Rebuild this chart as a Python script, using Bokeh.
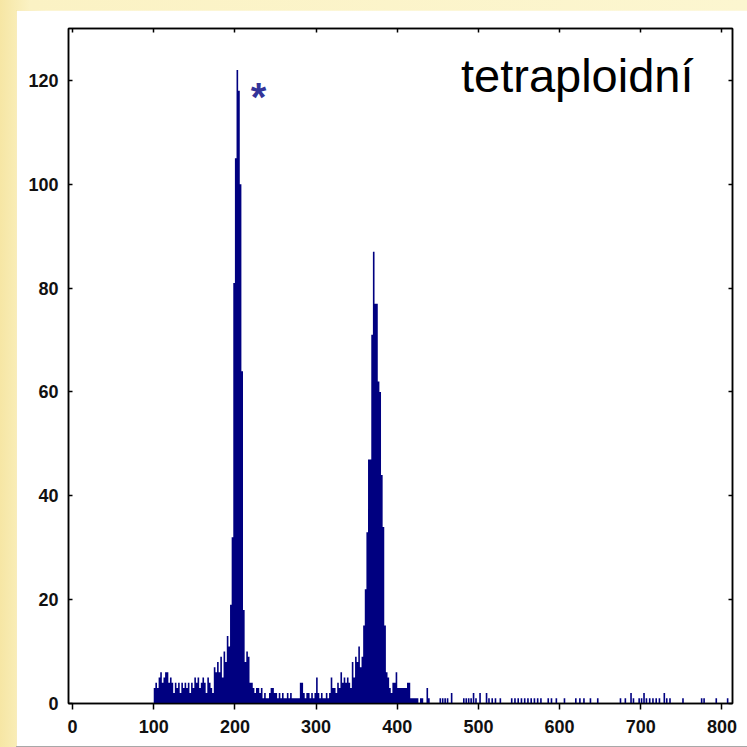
from bokeh.plotting import figure
from bokeh.models import Range1d, LinearAxis, FixedTicker, ColumnDataSource, Label, CustomJSTickFormatter
from bokeh.embed import file_html
from bokeh.resources import INLINE
from bokeh.core.templates import get_env

# ---------------- data ----------------
bin_width = 2
dense_start = 100
# counts per 2-channel bin, channels 100..438
dense_counts = [
    3, 4, 3, 5, 6, 4, 5, 6, 6, 4,          # 100-118
    5, 4, 2, 4, 3, 4, 2, 4, 3, 4,          # 120-138
    3, 4, 2, 4, 3, 5, 4, 5, 3, 4,          # 140-158
    5, 4, 2, 5, 4, 3, 2, 7, 6, 8,          # 160-178
    6, 9, 5, 10, 8, 13, 11, 19, 32, 81,    # 180-198
    105, 122, 118, 100, 64, 18, 8, 10, 9, 4,  # 200-218
    4, 3, 2, 3, 3, 2, 3, 1, 2, 1,          # 220-238
    1, 2, 3, 3, 2, 2, 1, 2, 1, 2,          # 240-258
    1, 1, 2, 1, 2, 1, 1, 1, 1, 1,          # 260-278
    4, 4, 2, 1, 2, 2, 1, 2, 1, 2,          # 280-298
    5, 2, 1, 2, 1, 1, 2, 1, 2, 5,          # 300-318
    3, 3, 2, 4, 3, 6, 4, 5, 4, 5,          # 320-338
    4, 3, 8, 5, 9, 8, 11, 7, 9, 15,        # 340-358
    22, 33, 47, 47, 71, 87, 77, 77, 62, 60,  # 360-378
    44, 34, 15, 6, 5, 3, 2, 4, 4, 6,       # 380-398
    3, 3, 3, 3, 3, 3, 4, 4, 1, 1,          # 400-418
    1, 1, 1, 0, 1, 1, 0, 0, 3, 1,          # 420-438
]
# isolated events above channel 440
sparse_channels = [452, 455, 458, 461, 466, 481, 484, 487, 490, 493, 496, 501, 509, 512,
                   516, 520, 526, 540, 544, 548, 552, 556, 560, 564, 568, 572, 576, 585,
                   589, 595, 605, 619, 624, 629, 637, 646, 674, 680, 687, 690, 697, 700,
                   703, 706, 710, 714, 718, 722, 728, 731, 735, 751, 774, 777, 792, 806]
sparse_counts = [1, 1, 1, 1, 2, 1, 1, 1, 1, 2, 1, 2, 2, 1,
                 1, 1, 1, 1, 1, 1, 1, 1, 1, 1, 1, 1, 1, 1,
                 1, 1, 1, 1, 1, 1, 1, 1, 1, 1, 2, 1, 1, 1,
                 2, 1, 1, 1, 1, 1, 2, 1, 1, 1, 1, 1, 1, 1]

x_ticks = [0, 100, 200, 300, 400, 500, 600, 700, 800]
y_ticks = [0, 20, 40, 60, 80, 100, 120]
label_text = "tetraploidní"
marker_text = "*"

# ---------------- build step table (one value per channel) ----------------
first_ch, last_ch = 100, 812
lefts = [dense_start + i * bin_width for i in range(len(dense_counts))] + sparse_channels
tops = dense_counts + sparse_counts
per_channel = [0] * (last_ch - first_ch + 1)
for lft, cnt in zip(lefts, tops):
    for c in range(lft, lft + bin_width):
        if first_ch <= c <= last_ch:
            per_channel[c - first_ch] = cnt
src = ColumnDataSource(dict(
    x=list(range(first_ch, last_ch + 1)),
    y1=[0] * len(per_channel),
    y2=per_channel,
))

FONT = "Liberation Sans"
NAVY = "#000080"

p = figure(
    width=731, height=736,
    frame_width=664, frame_height=675,
    x_range=Range1d(-5, 813), y_range=Range1d(0, 130),
    output_backend="svg", toolbar_location=None,
    min_border_left=52, min_border_right=15, min_border_top=18, min_border_bottom=43,
    background_fill_color="white", border_fill_color="white",
    outline_line_color="black", outline_line_width=1.5,
)
p.styles = {"box-shadow": "0 0 0 2px #a8a8a8"}
p.grid.visible = False

p.varea_step(x="x", y1="y1", y2="y2", source=src, step_mode="after", fill_color=NAVY)

# bottom axis
xa = p.xaxis[0]
xa.ticker = FixedTicker(ticks=x_ticks)
xa.major_tick_in = 0
xa.major_tick_out = 6
xa.minor_tick_line_color = None
xa.axis_line_width = 1.5
xa.major_tick_line_width = 1.5
xa.major_label_text_font = FONT
xa.major_label_text_font_style = "bold"
xa.major_label_text_font_size = "18px"
xa.major_label_text_color = "#111111"
xa.major_label_standoff = 10

# left axis
ya = p.yaxis[0]
ya.ticker = FixedTicker(ticks=y_ticks)
ya.major_tick_in = 4
ya.major_tick_out = 0
ya.minor_tick_line_color = None
ya.axis_line_width = 1.5
ya.major_tick_line_width = 1.5
ya.major_label_text_font = FONT
ya.major_label_text_font_style = "bold"
ya.major_label_text_font_size = "18px"
ya.major_label_text_color = "#111111"
ya.major_label_standoff = 10

blank = CustomJSTickFormatter(code="return ''")
top_axis = LinearAxis(ticker=FixedTicker(ticks=x_ticks), formatter=blank,
                      major_tick_in=4, major_tick_out=0, minor_tick_line_color=None,
                      axis_line_width=1.5, major_tick_line_width=1.5,
                      major_label_text_font_size="1px", major_label_standoff=0)
right_axis = LinearAxis(ticker=FixedTicker(ticks=y_ticks), formatter=blank,
                        major_tick_in=4, major_tick_out=0, minor_tick_line_color=None,
                        axis_line_width=1.5, major_tick_line_width=1.5,
                        major_label_text_font_size="1px", major_label_standoff=0)
p.add_layout(top_axis, "above")
p.add_layout(right_axis, "right")

p.add_layout(Label(x=765, y=115.8, text=label_text, text_align="right",
                   text_font=FONT, text_font_size="47px", text_color="black"))
p.add_layout(Label(x=229, y=112.5, text=marker_text, text_align="center",
                   text_font=FONT, text_font_size="40px", text_font_style="bold",
                   text_color="#333399"))

tmpl = get_env().from_string(
    "{% extends base %}{% block postamble %}<style>"
    "html, body {background: linear-gradient(90deg, #f6e6a4 0px, #fbf2c4 30px, #fcf6d0 100%);}"
    "body {margin: 10px 0 0 16px;}"
    "</style>{% endblock %}"
)
html = file_html(p, INLINE, "tetraploidní", template=tmpl)
open("out.html", "w").write(html)
